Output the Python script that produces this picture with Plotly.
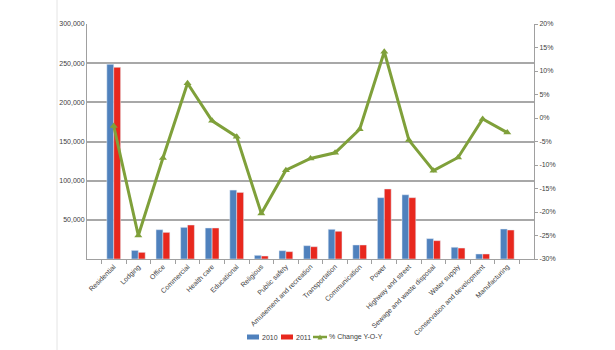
import plotly.graph_objects as go

categories = ["Residential", "Lodging", "Office", "Commercial", "Health care", "Educational",
              "Religious", "Public safety", "Amusement and recreation", "Transportation",
              "Communication", "Power", "Highway and street", "Sewage and waste disposal",
              "Water supply", "Conservation and development", "Manufacturing"]
v2010 = [248500, 11000, 37400, 40400, 39600, 88000, 4700, 10600, 17000, 37900,
         17900, 78300, 82000, 26000, 15000, 6400, 38300]
v2011 = [244700, 8500, 34000, 43400, 39600, 85000, 3800, 9400, 15700, 35400,
         17900, 89400, 78300, 23400, 14000, 6400, 37000]
pct_change = [-1.7, -25.0, -8.5, 7.4, -0.6, -4.0, -20.3, -11.1, -8.6, -7.4,
              -2.4, 14.1, -4.7, -11.2, -8.4, -0.2, -3.1]

left_ticks = [0, 50000, 100000, 150000, 200000, 250000, 300000]
left_labels = ["", "50,000", "100,000", "150,000", "200,000", "250,000", "300,000"]
right_ticks = list(range(-30, 21, 5))
right_labels = [f"{t}%" for t in right_ticks]
series_names = ["2010", "2011", "% Change Y-O-Y"]
colors = ["#4F81BD", "#E8281E", "#7FA03A"]

font = "Liberation Sans, Arial, sans-serif"
L, R, T, B = 87, 81, 24, 91
W, H = 615, 350
PW, PH = W - L - R, H - T - B


def px_x(px):
    return (px - L) / PW


def px_y(py):
    return (H - B - py) / PH


fig = go.Figure()
fig.add_trace(go.Bar(x=categories, y=v2010, name=series_names[0], marker_color=colors[0]))
fig.add_trace(go.Bar(x=categories, y=v2011, name=series_names[1], marker_color=colors[1]))
fig.add_trace(go.Scatter(x=categories, y=pct_change, name=series_names[2], yaxis="y2",
                         mode="lines+markers",
                         line=dict(color=colors[2], width=3),
                         marker=dict(symbol="triangle-up", size=7, color=colors[2])))

fig.update_layout(
    width=W, height=H,
    margin=dict(l=L, r=R, t=T, b=B, autoexpand=False),
    paper_bgcolor="white", plot_bgcolor="white",
    font=dict(family=font, size=7, color="#404040"),
    barmode="group", bargap=0.44, bargroupgap=0.0,
    showlegend=False,
    xaxis=dict(tickangle=-45, showgrid=False, showline=True, linecolor="#a0a0a0",
               linewidth=1, ticks="outside", tickson="boundaries", ticklen=4,
               tickcolor="#a0a0a0", automargin=False,
               tickfont=dict(size=7, color="#404040")),
    yaxis=dict(range=[0, 300000], tickvals=left_ticks, ticktext=left_labels,
               showgrid=True, gridcolor="#a8a8a8", gridwidth=1.5, automargin=False,
               showline=True, linecolor="#a0a0a0", linewidth=1,
               zeroline=False, ticks="", tickfont=dict(size=7, color="#404040")),
    yaxis2=dict(range=[-30, 20], tickvals=right_ticks, ticktext=right_labels,
                overlaying="y", side="right", showgrid=False, zeroline=False,
                showline=True, linecolor="#a0a0a0", linewidth=1, automargin=False,
                ticks="outside", ticklen=3, tickcolor="#a0a0a0",
                tickfont=dict(size=7, color="#404040")),
)

# faint vertical border line at the left of the image
fig.add_shape(type="line", xref="paper", yref="paper", x0=px_x(57), x1=px_x(57),
              y0=px_y(350), y1=px_y(0), line=dict(color="#e4e4e4", width=1))

# manual legend (Excel-style compact)
ly = 337
for i, (x0, x1, tx) in enumerate([(247, 259, 260), (281, 293, 294)]):
    fig.add_shape(type="rect", xref="paper", yref="paper",
                  x0=px_x(x0), x1=px_x(x1), y0=px_y(ly + 2.5), y1=px_y(ly - 2.5),
                  fillcolor=colors[i], line=dict(width=0))
    fig.add_annotation(xref="paper", yref="paper", x=px_x(tx), y=px_y(ly),
                       text=series_names[i], showarrow=False, xanchor="left",
                       yanchor="middle", font=dict(size=7, color="#404040"))
fig.add_shape(type="line", xref="paper", yref="paper",
              x0=px_x(313), x1=px_x(327), y0=px_y(ly), y1=px_y(ly),
              line=dict(color=colors[2], width=2.5))
fig.add_shape(type="path", xref="paper", yref="paper",
              path=f"M {px_x(317.5)} {px_y(ly + 2.5)} L {px_x(322.5)} {px_y(ly + 2.5)} "
                   f"L {px_x(320)} {px_y(ly - 2.5)} Z",
              fillcolor=colors[2], line=dict(width=0))
fig.add_annotation(xref="paper", yref="paper", x=px_x(327), y=px_y(ly),
                   text=series_names[2], showarrow=False, xanchor="left",
                   yanchor="middle", font=dict(size=7, color="#404040"))

fig.write_html("out.html")
